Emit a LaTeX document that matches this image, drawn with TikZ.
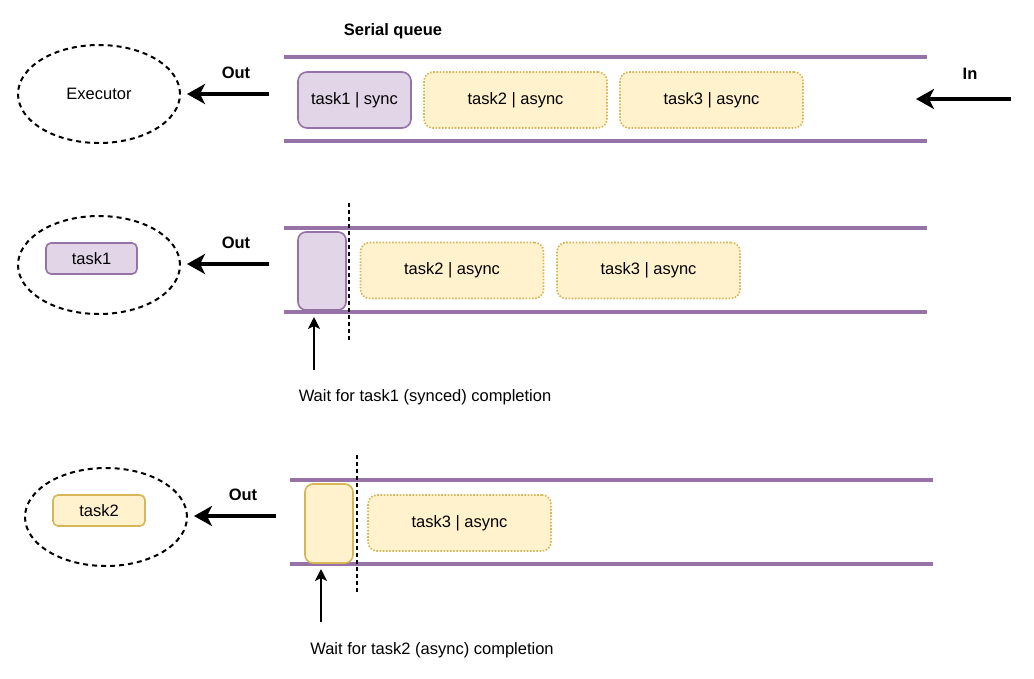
\documentclass[tikz,border=0pt]{standalone}
\usepackage{fontspec}
\setmainfont{Liberation Sans}
\usetikzlibrary{arrows.meta,shapes.geometric}
\definecolor{qpurple}{HTML}{9673A6}
\definecolor{qlilac}{HTML}{E1D5E7}
\definecolor{qgold}{HTML}{D6B656}
\definecolor{qcream}{HTML}{FFF2CC}
\tikzset{
    lane/.style={qpurple,line width=4pt},
    executor/.style={draw,ellipse,dash pattern=on 5pt off 4pt,line width=2pt,minimum width=162pt,minimum height=98pt,inner sep=0pt},
    syncbox/.style={draw=qpurple,fill=qlilac,line width=1.6pt,inner sep=0pt},
    donebox/.style={draw=qgold,fill=qcream,line width=1.6pt,inner sep=0pt},
    asyncbox/.style={draw=qgold,fill=qcream,line width=1.6pt,dash pattern=on 1.6pt off 1.6pt,rounded corners=9pt,minimum width=183pt,minimum height=56pt,inner sep=0pt},
    title/.style={font=\fontsize{16.5}{19}\selectfont\bfseries},
    outarrow/.style={-{Stealth[length=18pt,width=20pt,inset=5pt]},line width=4pt},
    waitarrow/.style={-{Stealth[length=12pt,width=12pt,inset=3pt]},line width=1.8pt},
    cut/.style={dash pattern=on 4pt off 3pt,line width=2pt}
}
\begin{document}
\begin{tikzpicture}[x=1pt,y=-1pt,font=\fontsize{16.5}{19}\selectfont]
    \useasboundingbox (0,0) rectangle (1034,678);
    \node[title] (serial) at (393,31) {Serial queue};

    \draw[lane] (284,57) -- (927,57);
    \draw[lane] (284,141) -- (927,141);
    \node[executor] (exec) at (99,94) {Executor};
    \node[title] (out1) at (236,73) {Out};
    \node[title] (in1) at (970,74) {In};
    \node[syncbox,rounded corners=9pt,minimum width=113pt,minimum height=56pt] (t1a) at (354.5,100) {task1 | sync};
    \node[asyncbox] (t2a) at (515.5,100) {task2 | async};
    \node[asyncbox] (t3a) at (711.5,100) {task3 | async};
    \coordinate (o1) at (269,94);
    \coordinate (e1) at (187,94);
    \coordinate (i1) at (1011,99);
    \coordinate (q1) at (916,99);
    \draw[outarrow] (o1) -- (e1);
    \draw[outarrow] (i1) -- (q1);

    \draw[lane] (284,228) -- (927,228);
    \draw[lane] (284,312) -- (927,312);
    \node[executor] (exec2) at (99,265) {};
    \node[syncbox,rounded corners=5pt,minimum width=91pt,minimum height=31pt] (held1) at (91.5,258.5) {task1};
    \node[title] (out2) at (236,243) {Out};
    \node[syncbox,rounded corners=8pt,minimum width=48pt,minimum height=78pt] (head1) at (322,271) {};
    \node[asyncbox] (t2b) at (452,270.5) {task2 | async};
    \node[asyncbox] (t3b) at (648.5,270.5) {task3 | async};
    \draw[cut] (349,203) -- (349,342);
    \coordinate (o2) at (269,264);
    \coordinate (e2) at (187,264);
    \draw[outarrow] (o2) -- (e2);
    \coordinate (w1) at (314,370);
    \coordinate (h1) at (314,317);
    \draw[waitarrow] (w1) -- (h1);
    \node (wait1) at (425,397) {Wait for task1 (synced) completion};

    \draw[lane] (290,480) -- (933,480);
    \draw[lane] (290,564) -- (933,564);
    \node[executor] (exec3) at (106,517) {};
    \node[donebox,rounded corners=5pt,minimum width=92pt,minimum height=31pt] (held2) at (99,510.5) {task2};
    \node[title] (out3) at (243,495) {Out};
    \node[donebox,rounded corners=8pt,minimum width=48pt,minimum height=79pt] (head2) at (329,523.5) {};
    \node[asyncbox] (t3c) at (459.5,523) {task3 | async};
    \draw[cut] (357,455) -- (357,593);
    \coordinate (o3) at (276,516);
    \coordinate (e3) at (194,516);
    \draw[outarrow] (o3) -- (e3);
    \coordinate (w2) at (321,622);
    \coordinate (h2) at (321,569);
    \draw[waitarrow] (w2) -- (h2);
    \node (wait2) at (432,650) {Wait for task2 (async) completion};
\end{tikzpicture}
\end{document}
